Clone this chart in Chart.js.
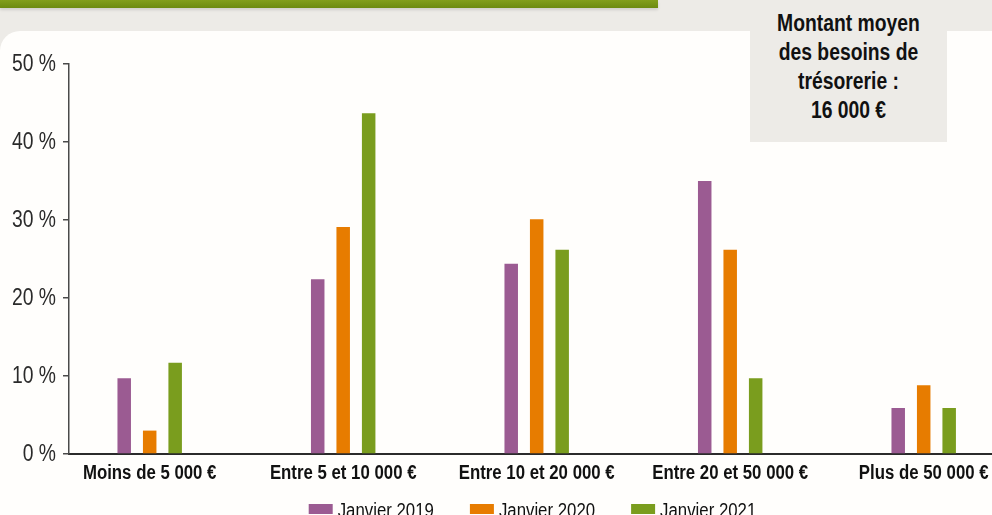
<!DOCTYPE html>
<html lang="fr">
<head>
<meta charset="utf-8">
<script src="https://cdn.jsdelivr.net/npm/chart.js@4.4.1/dist/chart.umd.min.js"></script>
<style>
  html, body { margin: 0; padding: 0; width: 992px; height: 515px; overflow: hidden; background: #EDEBE7; }
  #topbar { position: absolute; left: 0; top: 0; width: 658px; height: 8px;
            background: linear-gradient(#829F1C, #6C8B10); box-shadow: 0 2px 3px rgba(0,0,0,0.12); }
  #panel { position: absolute; left: 0; top: 31px; width: 992px; height: 484px; background: #FFFEFC;
           border-top-left-radius: 20px; }
  #note { position: absolute; left: 750px; top: 0; width: 197px; height: 142px; background: #EDEBE7;
          font-family: 'Liberation Sans', Arial, sans-serif;
          font-weight: bold; font-size: 23px; line-height: 29px; color: #111; text-align: center;
          box-sizing: border-box; padding-top: 9px; z-index: 3; }
  #note span { display: block; transform: scaleX(0.84); white-space: nowrap; }
  #wrap { position: absolute; left: 0; top: 0; width: 992px; height: 515px; z-index: 2; }
</style>
</head>
<body>
<div id="topbar"></div>
<div id="panel"></div>
<div id="note"><span>Montant moyen</span><span>des besoins de</span><span>trésorerie :</span><span>16 000 €</span></div>
<div id="wrap"><canvas id="c" width="992" height="515"></canvas></div>
<script>
const categories = ['Moins de 5 000 €', 'Entre 5 et 10 000 €', 'Entre 10 et 20 000 €', 'Entre 20 et 50 000 €', 'Plus de 50 000 €'];
const seriesNames = ['Janvier 2019', 'Janvier 2020', 'Janvier 2021'];
const values2019 = [9.7, 22.4, 24.4, 35.0, 5.9];
const values2020 = [3.0, 29.1, 30.1, 26.2, 8.8];
const values2021 = [11.7, 43.7, 26.2, 9.7, 5.9];
const yTicks = [0, 10, 20, 30, 40, 50];

const colors = ['#9B5B92', '#E77C00', '#7A9D1E'];
const FONT = "'Liberation Sans', Arial, sans-serif";
const SX = 0.84; // horizontal condensing of the text

function toPoints(arr) { return arr.map((v, i) => ({ x: i, y: v })); }

function condensedText(ctx, text, x, y) {
  ctx.save();
  ctx.translate(x, y);
  ctx.scale(SX, 1);
  ctx.fillText(text, 0, 0);
  ctx.restore();
}

const customText = {
  id: 'customText',
  afterDraw(chart) {
    const ctx = chart.ctx;
    const xs = chart.scales.x;
    const ys = chart.scales.y;
    ctx.save();
    // y tick labels
    ctx.font = "23px " + FONT;
    ctx.fillStyle = '#2a2a2a';
    ctx.textAlign = 'right';
    ctx.textBaseline = 'middle';
    ys.ticks.forEach(t => condensedText(ctx, t.value + ' %', 56, ys.getPixelForValue(t.value) + 1));
    // category labels
    ctx.font = "bold 20px " + FONT;
    ctx.fillStyle = '#111';
    ctx.textAlign = 'center';
    ctx.textBaseline = 'alphabetic';
    categories.forEach((c, i) => condensedText(ctx, c, xs.getPixelForValue(i), 479));
    // legend
    ctx.font = "20px " + FONT;
    ctx.textAlign = 'left';
    const boxW = 24, boxH = 10, gapBox = 5, gapItem = 36;
    const items = chart.data.datasets.map(d => ({ label: d.label, color: d.backgroundColor, w: ctx.measureText(d.label).width * SX }));
    const total = items.reduce((s, it) => s + boxW + gapBox + it.w, 0) + gapItem * (items.length - 1);
    let x = (chart.chartArea.left + chart.chartArea.right) / 2 + 2 - total / 2;
    items.forEach(it => {
      ctx.fillStyle = it.color;
      ctx.fillRect(x, 504, boxW, boxH);
      ctx.fillStyle = '#111';
      condensedText(ctx, it.label, x + boxW + gapBox, 517);
      x += boxW + gapBox + it.w + gapItem;
    });
    ctx.restore();
  }
};

new Chart(document.getElementById('c'), {
  type: 'bar',
  data: {
    datasets: [
      { label: seriesNames[0], data: toPoints(values2019), backgroundColor: colors[0] },
      { label: seriesNames[1], data: toPoints(values2020), backgroundColor: colors[1] },
      { label: seriesNames[2], data: toPoints(values2021), backgroundColor: colors[2] }
    ]
  },
  options: {
    responsive: false,
    animation: false,
    events: [],
    layout: { padding: { top: 64, left: 0, right: 0, bottom: 0 } },
    datasets: { bar: { categoryPercentage: 0.395, barPercentage: 0.53 } },
    plugins: { legend: { display: false }, tooltip: { enabled: false } },
    scales: {
      x: {
        type: 'linear',
        offset: false,
        bounds: 'data',
        min: -0.417,
        max: 4.353,
        afterBuildTicks(scale) { scale.ticks = categories.map((c, i) => ({ value: i })); },
        afterFit(scale) { scale.height = 61; },
        ticks: { display: false },
        grid: { display: false, drawTicks: false, offset: false },
        border: { display: true, color: '#2b2b2b', width: 2 }
      },
      y: {
        min: 0,
        max: 50,
        afterBuildTicks(scale) { scale.ticks = yTicks.map(v => ({ value: v })); },
        afterFit(scale) { scale.width = 69; },
        ticks: { display: false },
        grid: { display: true, drawOnChartArea: false, drawTicks: true, tickLength: 6, color: '#4a4a4a', lineWidth: 1.5 },
        border: { display: true, color: '#4a4a4a', width: 1.5 }
      }
    }
  },
  plugins: [customText]
});
</script>
</body>
</html>
